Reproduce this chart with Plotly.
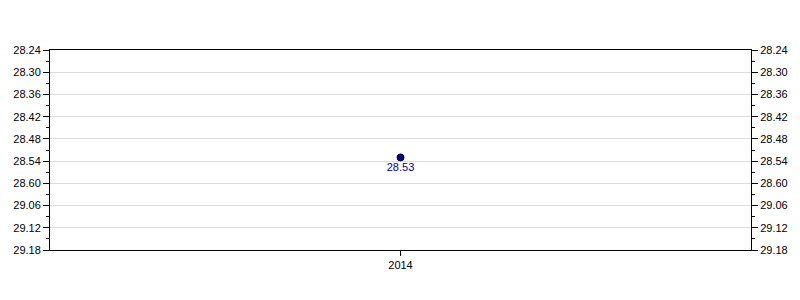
import plotly.graph_objects as go

categories = ["2014"]
values = ["28.53"]
tick_labels = ["28.24", "28.30", "28.36", "28.42", "28.48", "28.54",
               "28.60", "29.06", "29.12", "29.18"]


def to_seconds(s):
    m, sec = s.split(".")
    return int(m) * 60 + int(sec)


y_vals = [to_seconds(v) for v in values]
tick_vals = [to_seconds(t) for t in tick_labels]
y_range = [max(tick_vals), min(tick_vals)]

font = dict(family="Liberation Sans, Arial, sans-serif", size=11, color="#000000")

fig = go.Figure()
fig.add_trace(go.Scatter(
    x=categories, y=y_vals, mode="markers+text",
    text=values, textposition="bottom center",
    textfont=dict(family="Liberation Sans, Arial, sans-serif", size=11, color="#0000A0"),
    marker=dict(color="#000080", size=7, line=dict(color="#000040", width=1)),
    showlegend=False, hoverinfo="skip",
))
fig.add_trace(go.Scatter(
    x=categories, y=y_vals, mode="markers", yaxis="y2",
    marker=dict(opacity=0), showlegend=False, hoverinfo="skip",
))

yax = dict(
    range=y_range, tickmode="array", tickvals=tick_vals, ticktext=tick_labels,
    ticks="outside", ticklen=6, tickwidth=1, tickcolor="#000000",
    showline=True, linecolor="#000000", linewidth=1,
    minor=dict(ticks="outside", ticklen=3, dtick=3, tick0=tick_vals[0],
               tickcolor="#000000", showgrid=False),
    tickfont=font, zeroline=False,
)

fig.update_layout(
    width=800, height=300,
    margin=dict(l=50, r=49, t=50, b=50),
    paper_bgcolor="#FFFFFF", plot_bgcolor="#FFFFFF",
    xaxis=dict(
        type="category", range=[-0.5, 0.5],
        showline=True, linecolor="#000000", linewidth=1, mirror=True,
        ticks="outside", ticklen=5, tickcolor="#000000",
        showgrid=False, tickfont=font, zeroline=False,
    ),
    yaxis=dict(**yax, side="left", showgrid=True, gridcolor="#DCDCDC", gridwidth=1),
    yaxis2=dict(**yax, side="right", overlaying="y", showgrid=False),
)

fig.write_html("out.html")
